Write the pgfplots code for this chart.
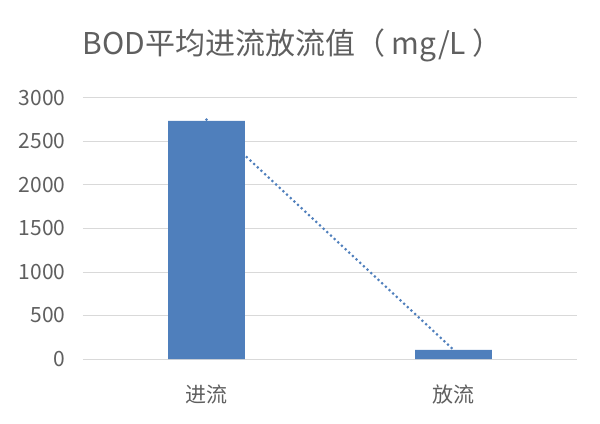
\documentclass[border=0pt]{standalone}
\usepackage{pgfplots}
\pgfplotsset{compat=1.18}
\usepackage{fontspec}
\setmainfont{Noto Sans CJK SC}
\usetikzlibrary{calc}

\definecolor{barblue}{HTML}{4F7FBC}
\definecolor{txtgray}{HTML}{5F5F5F}
\definecolor{gridgray}{HTML}{D9D9D9}

\begin{document}
\begin{tikzpicture}
  \begin{axis}[
      name=ax,
      scale only axis,
      width=494bp,
      height=261bp,
      xmin=-0.5, xmax=1.5,
      ymin=0, ymax=3000,
      ytick={0,500,...,3000},
      xtick={0,1},
      xticklabels={进流,放流},
      major tick length=0pt,
      axis line style={draw=none},
      ymajorgrids,
      grid style={gridgray, line width=1bp},
      tick label style={font=\fontsize{21bp}{23bp}\selectfont, text=txtgray},
      yticklabel style={anchor=east, xshift=-14bp},
      xticklabel style={anchor=north, yshift=-22bp},
      /pgf/number format/assume math mode=true,
      /pgf/number format/1000 sep={},
      title={BOD平均进流放流值（ mg/L ）},
      title style={at={(0,1)}, anchor=west, xshift=-4bp, yshift=47bp,
        font=\fontsize{30bp}{33bp}\selectfont, text=txtgray},
    ]
    \addplot[ybar, bar width=0.31, fill=barblue, draw=none]
      coordinates {(0,2736) (1,105)};
    \addplot[barblue, line width=3bp, line cap=round,
      dash pattern=on 0pt off 5bp]
      coordinates {(0,2750) (1,105)};
    \coordinate (ll) at (rel axis cs:0,0);
    \coordinate (ur) at (rel axis cs:1,1);
  \end{axis}
  \path[use as bounding box] ($(ll)+(-83bp,-65bp)$) rectangle ($(ur)+(23bp,98bp)$);
\end{tikzpicture}
\end{document}
